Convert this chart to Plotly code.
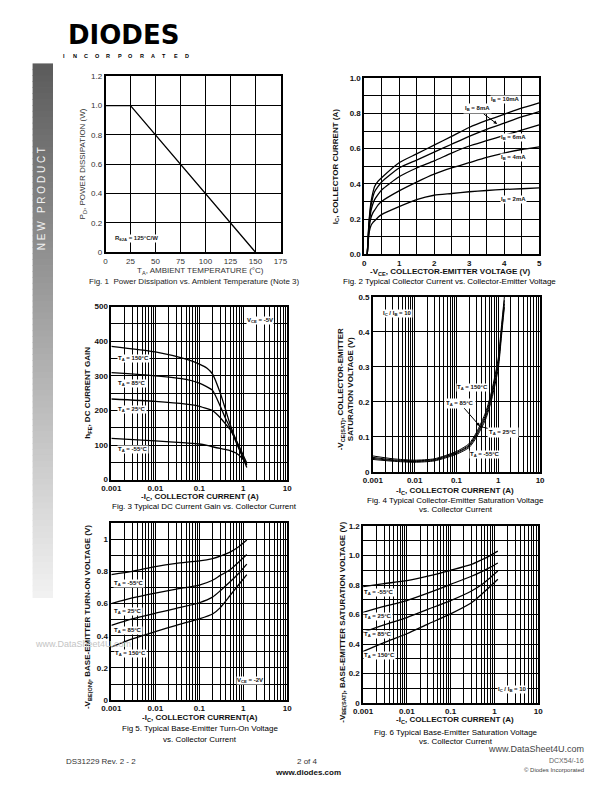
import plotly.graph_objects as go

W, H = 612, 792
OFF = 8  # default page margin of the html body

# ---------------- data ----------------
# Fig 1 : power dissipation vs ambient temperature
TEMP_C = [0, 25, 150]
PD_W = [1.0, 1.0, 0.0]

# Fig 2 : collector current vs collector-emitter voltage
VCE_V = [0.09, 0.12, 0.15, 0.2, 0.25, 0.3, 0.4, 0.5, 1.0, 1.5, 2.0, 2.5, 3.0, 3.5, 4.0, 4.5, 5.0]
IC_IB2 = [0, 0.08, 0.13, 0.165, 0.18, 0.19, 0.21, 0.225, 0.27, 0.31, 0.335, 0.345, 0.355, 0.362, 0.368, 0.372, 0.377]
IC_IB4 = [0, 0.09, 0.16, 0.21, 0.235, 0.25, 0.28, 0.30, 0.36, 0.41, 0.455, 0.49, 0.52, 0.55, 0.575, 0.595, 0.61]
IC_IB6 = [0, 0.10, 0.18, 0.25, 0.285, 0.31, 0.34, 0.365, 0.44, 0.49, 0.53, 0.575, 0.615, 0.645, 0.675, 0.705, 0.735]
IC_IB8 = [0, 0.11, 0.20, 0.28, 0.325, 0.355, 0.385, 0.41, 0.49, 0.535, 0.58, 0.625, 0.67, 0.71, 0.745, 0.78, 0.81]
IC_IB10 = [0, 0.12, 0.21, 0.30, 0.35, 0.385, 0.415, 0.435, 0.52, 0.57, 0.62, 0.67, 0.72, 0.76, 0.795, 0.83, 0.86]

# Fig 3 : DC current gain vs collector current
IC3_A = [0.001, 0.01, 0.05, 0.1, 0.15, 0.2, 0.3, 0.4, 0.5, 0.7, 1.0, 1.2]
HFE_150 = [385, 369, 348, 334, 322, 305, 250, 200, 160, 110, 60, 35]
HFE_85 = [309, 300, 290, 279, 268, 258, 212, 175, 150, 105, 62, 42]
HFE_25 = [233, 226, 218, 212, 205, 199, 179, 160, 145, 112, 70, 48]
HFE_M55 = [119, 112, 106, 103, 99, 95, 90, 87, 84, 76, 58, 44]

# Fig 4 : VCE(sat) vs collector current
IC4_A = [0.001, 0.003, 0.01, 0.03, 0.1, 0.2, 0.3, 0.5, 0.7, 1.0, 1.2, 1.4]
VCESAT_150 = [0.045, 0.037, 0.033, 0.037, 0.058, 0.080, 0.112, 0.170, 0.232, 0.325, 0.42, 0.50]
VCESAT_85 = [0.041, 0.034, 0.031, 0.035, 0.055, 0.076, 0.107, 0.163, 0.224, 0.315, 0.41, 0.49]
VCESAT_25 = [0.038, 0.032, 0.029, 0.033, 0.053, 0.073, 0.103, 0.157, 0.217, 0.305, 0.40, 0.48]
VCESAT_M55 = [0.035, 0.030, 0.027, 0.031, 0.050, 0.069, 0.098, 0.150, 0.208, 0.295, 0.39, 0.47]

# Fig 5 : VBE(on) vs collector current
IC5_A = [0.001, 0.003, 0.01, 0.03, 0.1, 0.2, 0.3, 0.5, 0.8, 1.2]
VBEON_M55 = [0.78, 0.80, 0.83, 0.85, 0.865, 0.88, 0.895, 0.92, 0.955, 0.995]
VBEON_25 = [0.60, 0.635, 0.665, 0.69, 0.715, 0.745, 0.775, 0.81, 0.86, 0.905]
VBEON_85 = [0.465, 0.505, 0.54, 0.57, 0.605, 0.64, 0.68, 0.735, 0.79, 0.845]
VBEON_150 = [0.33, 0.38, 0.425, 0.465, 0.505, 0.535, 0.575, 0.65, 0.72, 0.78]

# Fig 6 : VBE(sat) vs collector current
IC6_A = [0.001, 0.003, 0.01, 0.03, 0.1, 0.3, 0.5, 0.8, 1.2]
VBESAT_M55 = [0.79, 0.81, 0.83, 0.86, 0.90, 0.94, 0.97, 1.0, 1.03]
VBESAT_25 = [0.615, 0.655, 0.695, 0.745, 0.805, 0.86, 0.89, 0.92, 0.95]
VBESAT_85 = [0.48, 0.53, 0.58, 0.635, 0.695, 0.76, 0.80, 0.85, 0.895]
VBESAT_150 = [0.35, 0.41, 0.47, 0.535, 0.605, 0.68, 0.735, 0.79, 0.84]

LOG_TICKS = [0.001, 0.01, 0.1, 1, 10]
LOG_TEXT = ["0.001", "0.01", "0.1", "1", "10"]

# ---------------- helpers ----------------
def px(x):
    return (x - OFF) / W

def py(y):
    return 1 - (y - OFF) / H

def dx(a, b):
    return [px(a), px(b)]

def dy(top, bottom):
    return [py(bottom), py(top)]

FONT = "Liberation Sans, Arial, sans-serif"
GRID = dict(showgrid=True, gridcolor="black", gridwidth=1, showline=True, mirror=True,
            linecolor="black", linewidth=1.5, ticks="", zeroline=False, fixedrange=True)

def tf(size=8, bold=True, color="#111", family=FONT):
    return dict(family=family, size=size, color=color, weight="bold" if bold else "normal")

fig = go.Figure()

def add(x, y, n, shape="spline", width=1.3):
    fig.add_trace(go.Scatter(x=x, y=y, mode="lines", xaxis="x" + ("" if n == 1 else str(n)),
                             yaxis="y" + ("" if n == 1 else str(n)),
                             line=dict(color="black", width=width, shape=shape, smoothing=0.6),
                             hoverinfo="skip"))

add(TEMP_C, PD_W, 1, shape="linear")
for s in [IC_IB2, IC_IB4, IC_IB6, IC_IB8, IC_IB10]:
    add(VCE_V, s, 2)
for s in [HFE_150, HFE_85, HFE_25, HFE_M55]:
    add(IC3_A, s, 3)
for s in [VCESAT_150, VCESAT_85, VCESAT_25, VCESAT_M55]:
    add(IC4_A, s, 4, width=1.0)
for s in [VBEON_M55, VBEON_25, VBEON_85, VBEON_150]:
    add(IC5_A, s, 5)
for s in [VBESAT_M55, VBESAT_25, VBESAT_85, VBESAT_150]:
    add(IC6_A, s, 6)

def logx(domain, anchor):
    return dict(GRID, type="log", domain=domain, anchor=anchor, range=[-3, 1],
                tickmode="array", tickvals=LOG_TICKS, ticktext=LOG_TEXT, tickfont=tf(8),
                minor=dict(dtick="D1", showgrid=True, gridcolor="black", gridwidth=0.9, ticks=""))

def lin(domain, anchor, rng, vals, text, minor=None, font=None):
    d = dict(GRID, domain=domain, anchor=anchor, range=rng, tickmode="array",
             tickvals=vals, ticktext=text, tickfont=font or tf(8))
    if minor:
        d["minor"] = dict(dtick=minor, showgrid=True, gridcolor="black", gridwidth=1, ticks="")
    return d

lay = dict(
    width=W, height=H, margin=dict(l=0, r=0, t=0, b=0), paper_bgcolor="white",
    plot_bgcolor="white", showlegend=False, font=dict(family=FONT),
    xaxis=lin(dx(98, 278), "y", [0, 175], [0, 25, 50, 75, 100, 125, 150, 175],
              ["0", "25", "50", "75", "100", "125", "150", "175"], font=tf(8, False, "#333")),
    yaxis=lin(dy(73, 251), "x", [0, 1.2], [0, 0.2, 0.4, 0.6, 0.8, 1.0, 1.2],
              ["0", "0.2", "0.4", "0.6", "0.8", "1.0", "1.2"], font=tf(8, False, "#333")),
    xaxis2=lin(dx(364, 544), "y2", [0, 5], [0, 1, 2, 3, 4, 5], ["0", "1", "2", "3", "4", "5"], minor=0.5),
    yaxis2=lin(dy(75, 253), "x2", [0, 1.0], [0, 0.2, 0.4, 0.6, 0.8, 1.0],
               ["0.0", "0.2", "0.4", "0.6", "0.8", "1.0"], minor=0.1),
    xaxis3=logx(dx(104, 285), "y3"),
    yaxis3=lin(dy(306, 481), "x3", [0, 500], [0, 100, 200, 300, 400, 500],
               ["0", "100", "200", "300", "400", "500"], minor=50),
    xaxis4=logx(dx(373, 545), "y4"),
    yaxis4=lin(dy(296, 473), "x4", [0, 0.5], [0, 0.1, 0.2, 0.3, 0.4, 0.5],
               ["0", "0.1", "0.2", "0.3", "0.4", "0.5"]),
    xaxis5=logx(dx(104, 285), "y5"),
    yaxis5=lin(dy(525, 704), "x5", [0, 1.1], [0, 0.2, 0.4, 0.6, 0.8, 1.0],
               ["0", "0.2", "0.4", "0.6", "0.8", "1"], minor=0.1),
    xaxis6=logx(dx(363, 543), "y6"),
    yaxis6=lin(dy(528, 707), "x6", [0, 1.2], [0, 0.2, 0.4, 0.6, 0.8, 1.0, 1.2],
               ["0", "0.2", "0.4", "0.6", "0.8", "1.0", "1.2"], minor=0.1),
)

ann = []

def A(text, x, y, size=8, bold=False, color="#111", angle=0, bg=None, xanchor="center", family=FONT):
    d = dict(text=text, x=px(x), y=py(y), xref="paper", yref="paper", showarrow=False,
             font=tf(size, bold, color, family), textangle=angle, xanchor=xanchor, yanchor="middle")
    if bg:
        d["bgcolor"] = bg
        d["borderpad"] = 0
    ann.append(d)

CAP = "#000"
# Fig 1 texts
A("P<sub>D</sub>, POWER DISSIPATION (W)", 75, 162, 8, False, "#333", angle=-90)
A("T<sub>A</sub>, AMBIENT TEMPERATURE (°C)", 196, 270, 8, False, "#333")
A("Fig. 1  Power Dissipation vs. Ambient Temperature (Note 3)", 190, 281, 8, False, "#222")
A("R<sub>θJA</sub> = 125°C/W", 130, 237, 6, True, "#222", bg="white")

# Fig 2 texts
A("I<sub>C</sub>, COLLECTOR CURRENT (A)", 335, 164, 8, True, angle=-90)
A("-V<sub>CE</sub>, COLLECTOR-EMITTER VOLTAGE (V)", 453, 271, 8, True)
A("Fig. 2 Typical Collector Current vs. Collector-Emitter Voltage", 452, 281, 8, False, CAP)
A("I<sub>B</sub> = 10mA", 509, 96, 6, True, bg="white")
A("I<sub>B</sub> = 6mA", 518, 135, 6, True, bg="white")
A("I<sub>B</sub> = 4mA", 518, 155, 6, True, bg="white")
A("I<sub>B</sub> = 2mA", 518, 198, 6, True, bg="white")
ann.append(dict(text="I<sub>B</sub> = 8mA", x=3.8, y=0.74, xref="x2", yref="y2", showarrow=True,
                ax=-20, ay=-15, arrowhead=2, arrowsize=0.7, arrowwidth=1, arrowcolor="black",
                font=tf(6, True), bgcolor="white"))

# Fig 3 texts
A("h<sub>FE</sub>, DC CURRENT GAIN", 80, 393, 8, True, angle=-90)
A("-I<sub>C</sub>, COLLECTOR CURRENT (A)", 195, 499, 8, True)
A("Fig. 3 Typical DC Current Gain vs. Collector Current", 200, 508, 8, False, CAP)
A("V<sub>CE</sub> = -5V", 257, 320, 6, True, bg="white")
A("T<sub>A</sub> = 150°C", 127, 358, 6, True, bg="white")
A("T<sub>A</sub> = 85°C", 125, 384, 6, True, bg="white")
A("T<sub>A</sub> = 25°C", 125, 410, 6, True, bg="white")
A("T<sub>A</sub> = -55°C", 126, 451, 6, True, bg="white")

# Fig 4 texts
A("-V<sub>CE(SAT)</sub>, COLLECTOR-EMITTER<br>SATURATION VOLTAGE (V)", 345, 390, 8, True, angle=-90)
A("-I<sub>C</sub>, COLLECTOR CURRENT (A)", 457, 492, 8, True)
A("Fig. 4 Typical Collector-Emitter Saturation Voltage", 458, 502, 8, False, CAP)
A("vs. Collector Current", 458, 511, 8, False, CAP)
A("I<sub>C</sub> / I<sub>B</sub> = 10", 398, 313, 6, True, bg="white")
A("T<sub>A</sub> = 150°C", 476, 388, 6, True, bg="white")
A("T<sub>A</sub> = -55°C", 488, 456, 6, True, bg="white")
ann.append(dict(text="T<sub>A</sub> = 85°C", x=-0.44, y=0.13, xref="x4", yref="y4", showarrow=True,
                ax=-20, ay=-23, arrowhead=2, arrowsize=0.7, arrowwidth=1, arrowcolor="black",
                font=tf(6, True), bgcolor="white"))
ann.append(dict(text="T<sub>A</sub> = 25°C", x=-0.46, y=0.13, xref="x4", yref="y4", showarrow=True,
                ax=24, ay=6, arrowhead=2, arrowsize=0.7, arrowwidth=1, arrowcolor="black",
                font=tf(6, True), bgcolor="white"))

# Fig 5 texts
A("-V<sub>BE(ON)</sub>, BASE-EMITTER TURN-ON VOLTAGE (V)", 80, 620, 8, True, angle=-90)
A("-I<sub>C</sub>, COLLECTOR CURRENT(A)", 195, 722, 8, True)
A("Fig 5. Typical Base-Emitter Turn-On Voltage", 195, 733, 8, False, CAP)
A("vs. Collector Current", 195, 744, 8, False, CAP)
A("T<sub>A</sub> = -55°C", 122, 586, 6, True, bg="white")
A("T<sub>A</sub> = 25°C", 121, 614, 6, True, bg="white")
A("T<sub>A</sub> = 85°C", 121, 634, 6, True, bg="white")
A("T<sub>A</sub> = 150°C", 124, 657, 6, True, bg="white")
A("V<sub>CE</sub> = -2V", 247, 684, 6, True, bg="white")

# Fig 6 texts
A("-V<sub>BE(SAT)</sub>, BASE-EMITTER SATURATION VOLTAGE (V)", 342, 625, 8, True, angle=-90)
A("-I<sub>C</sub>, COLLECTOR CURRENT (A)", 457, 724, 8, True)
A("Fig. 6 Typical Base-Emitter Saturation Voltage", 458, 737, 8, False, CAP)
A("vs. Collector Current", 458, 746, 8, False, CAP)
A("T<sub>A</sub> = -55°C", 379, 595, 6, True, bg="white")
A("T<sub>A</sub> = 25°C", 378, 619, 6, True, bg="white")
A("T<sub>A</sub> = 85°C", 378, 638, 6, True, bg="white")
A("T<sub>A</sub> = 150°C", 380, 659, 6, True, bg="white")
A("I<sub>C</sub> / I<sub>B</sub> = 10", 517, 693, 6, True, bg="white")

# header / footer
A("DIODES", 116, 31, 26, True, "black", family="DejaVu Sans, Liberation Sans")
for i, ch in enumerate("INCORPORATED"):
    A(ch, 55 + i * 11.5, 52, 5.5, True, "black")
A("N E W   P R O D U C T", 33, 197, 10, False, "#f2f2f2", angle=-90)
A("www.DataSheet4U.com", 75, 647, 9, False, "#c4c4c4")
A("DS31229 Rev. 2 - 2", 93, 766, 8, False, "#333")
A("2 of 4", 306, 766, 8, False, "#333")
A("www.diodes.com", 306, 777, 8, True, "#111")
A("www.DataSheet4U.com", 592, 753, 9, False, "#444", xanchor="right")
A("DCX54/-16", 592, 765, 7, False, "#666", xanchor="right")
A("© Diodes Incorporated", 592, 775, 6, False, "#444", xanchor="right")

lay["annotations"] = ann

# sidebar gradient bar (fades to white)
shapes = []
top, bot = 60, 600
N = 90
for i in range(N):
    y0 = top + (bot - top) * i / N
    y1 = top + (bot - top) * (i + 1) / N + 0.8
    c = min(255, int(92 + (y0 - top) * 0.28))
    shapes.append(dict(type="rect", xref="paper", yref="paper", x0=px(23), x1=px(44),
                       y0=py(y1), y1=py(y0), fillcolor=f"rgb({c},{c},{c})", line=dict(width=0),
                       layer="below"))
# logo stripe
shapes.append(dict(type="rect", xref="paper", yref="paper", x0=px(54), x1=px(150), y0=py(31.6), y1=py(30.4),
                   fillcolor="white", line=dict(width=0), layer="above"))
lay["shapes"] = shapes

fig.update_layout(**lay)
fig.write_html("out.html")
